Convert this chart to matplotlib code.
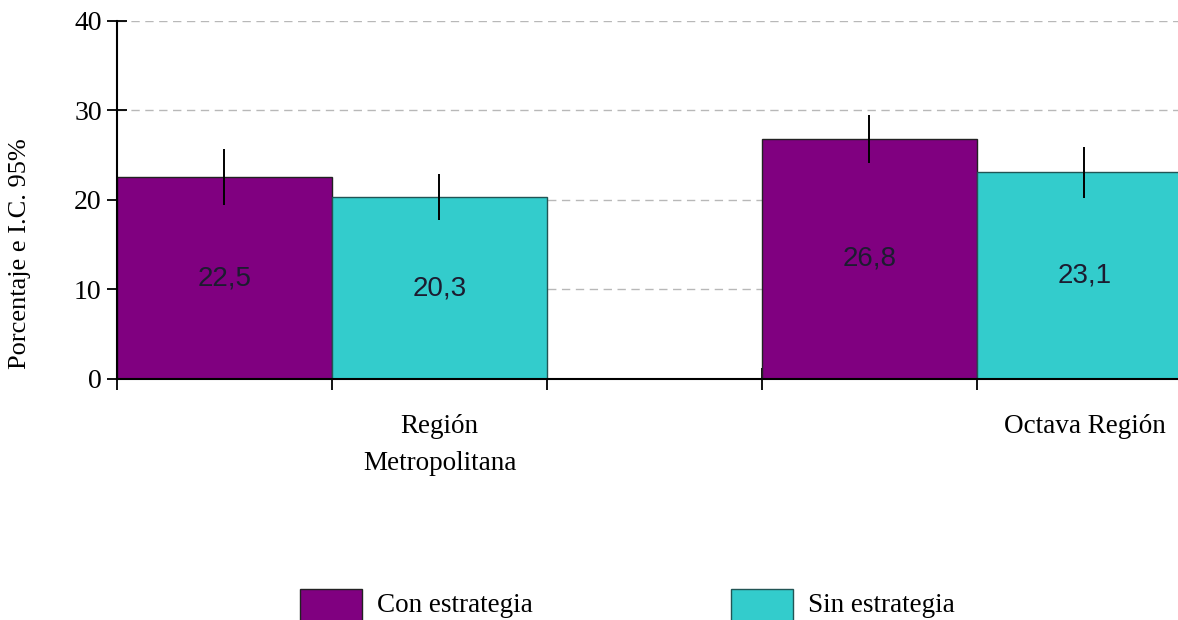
import numpy as np
import matplotlib.pyplot as plt
from matplotlib.patches import Patch

regiones = ["Región\nMetropolitana", "Octava Región"]
con_valor = [22.5, 26.8]
sin_valor = [20.3, 23.1]
con_bajo = [19.4, 24.1]
con_alto = [25.7, 29.5]
sin_bajo = [17.7, 20.2]
sin_alto = [22.9, 25.9]
etiq_con = ["22,5", "26,8"]
etiq_sin = ["20,3", "23,1"]
yticks = [0, 10, 20, 30, 40]

morado = "#800080"
turquesa = "#33CCCC"
serif = "Liberation Serif"

fig = plt.figure(figsize=(11.78, 6.2), dpi=100)
ax = fig.add_axes([117 / 1178, 241 / 620, 1 - 117 / 1178, (379 - 20.7) / 620])

x_con = np.array([0.5, 3.5])
x_sin = x_con + 1

ax.bar(x_con, con_valor, width=1, color=morado, edgecolor="#222222", linewidth=1, zorder=2)
ax.bar(x_sin, sin_valor, width=1, color=turquesa, edgecolor="#225555", linewidth=1, zorder=2)

ax.errorbar(x_con, con_valor,
            yerr=[np.array(con_valor) - con_bajo, np.array(con_alto) - con_valor],
            fmt="none", ecolor="black", elinewidth=1.4, capsize=0, zorder=3)
ax.errorbar(x_sin, sin_valor,
            yerr=[np.array(sin_valor) - sin_bajo, np.array(sin_alto) - sin_valor],
            fmt="none", ecolor="black", elinewidth=1.4, capsize=0, zorder=3)

for xs, vals, labs in [(x_con, con_valor, etiq_con), (x_sin, sin_valor, etiq_sin)]:
    for xi, v, t in zip(xs, vals, labs):
        ax.text(xi, v / 2, t, ha="center", va="center", fontsize=20,
                family="Liberation Sans", color="#1c1c30", zorder=4)

ax.set_xlim(0, 4.935)
ax.set_ylim(0, 40)
ax.set_yticks(yticks)
ax.set_xticks([0, 1, 2, 3, 4])
ax.set_xticklabels([])
ax.tick_params(axis="y", direction="inout", length=14, width=1.3, pad=4, labelsize=20)
ax.tick_params(axis="x", direction="inout", length=16, width=1.3)
for lab in ax.get_yticklabels():
    lab.set_family(serif)

ax.yaxis.grid(True, linestyle=(0, (6, 4)), color="#b8b8b8", linewidth=1, zorder=0)
ax.set_axisbelow(True)
for s in ["top", "right"]:
    ax.spines[s].set_visible(False)
for s in ["left", "bottom"]:
    ax.spines[s].set_linewidth(1.5)

# etiquetas de regiones bajo la barra "Sin estrategia"
for xi, r in zip(x_sin, regiones):
    ax.text(xi, -3.9, r, ha="center", va="top", fontsize=19.5, family=serif,
            linespacing=1.65, clip_on=False)

ax.set_ylabel("Porcentaje e I.C. 95%", fontsize=19, family=serif, labelpad=0)
ax.yaxis.set_label_coords(-0.081, 0.349)

handles = [Patch(facecolor=morado, edgecolor="#222222", label="Con estrategia"),
           Patch(facecolor=turquesa, edgecolor="#225555", label="Sin estrategia")]
leg = fig.legend(handles=handles, loc="upper left", bbox_to_anchor=(300 / 1178, 1 - 589 / 620),
                 ncol=2, frameon=False, prop={"family": serif, "size": 19.5},
                 handlelength=2.3, handleheight=1.9, handletextpad=0.55, columnspacing=7.3,
                 borderpad=0, borderaxespad=0)
for t in leg.get_texts():
    t.set_va("bottom")

fig.savefig("out.png", dpi=100)
